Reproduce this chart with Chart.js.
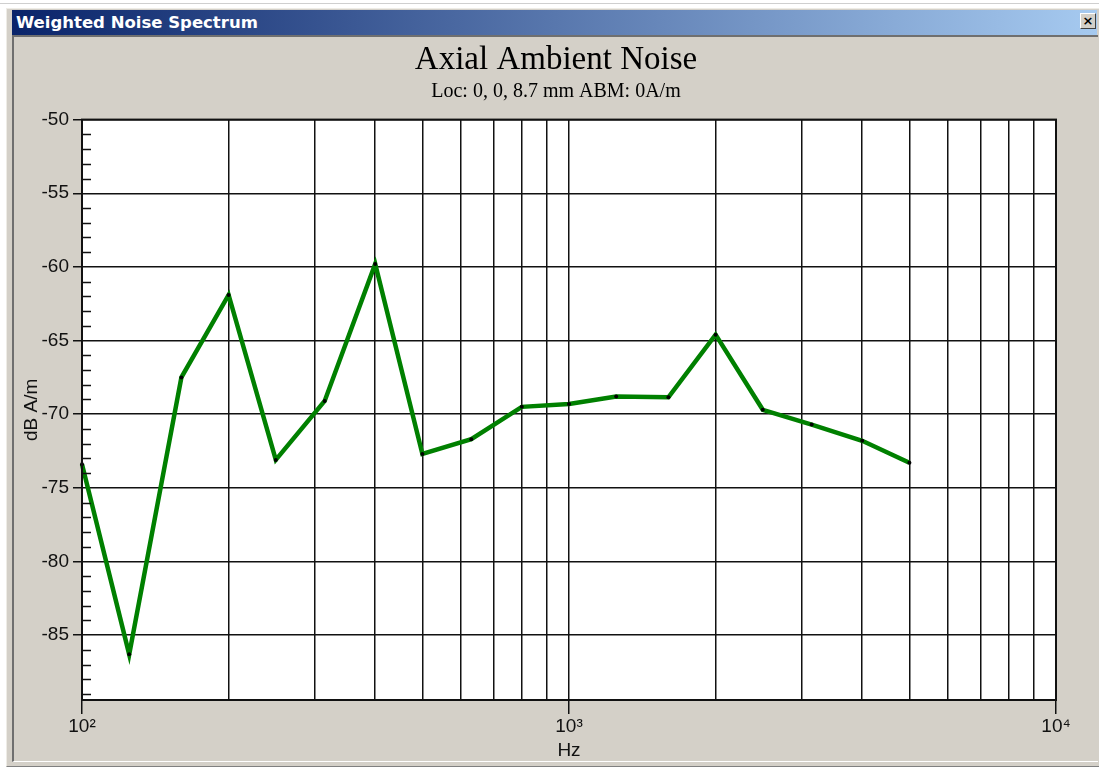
<!DOCTYPE html>
<html><head><meta charset="utf-8">
<script src="https://cdn.jsdelivr.net/npm/chart.js@4/dist/chart.umd.min.js"></script>
<style>
html,body{margin:0;padding:0;background:#fff;width:1099px;height:770px;overflow:hidden;position:relative}
#topline{position:absolute;left:0;top:3px;width:1099px;height:1px;background:#cfcfcf}
#win{position:absolute;left:6px;top:8px;width:1093px;height:759px;background:#D4D0C8;border-top:1px solid #eeece6;border-left:1px solid #eeece6;border-bottom:1px solid #808080;box-sizing:border-box}
#bar{position:absolute;left:12px;top:10px;width:1085px;height:25px;background:linear-gradient(to right,#0A246A,#A6CAF0)}
#bar span{position:absolute;left:4px;top:3px;color:#fff;font:bold 16.5px "DejaVu Sans",sans-serif;letter-spacing:0px}
#close{position:absolute;right:1px;top:3px;width:14px;height:14px;background:#D4D0C8;border:1px solid;border-color:#fff #404040 #404040 #fff;font:bold 13px "DejaVu Sans",sans-serif;line-height:14px;text-align:center;color:#000}
#client{position:absolute;left:12px;top:35px;width:1086px;height:727px;border-top:2px solid #6f6f6f;border-left:2px solid #6f6f6f;border-bottom:1px solid #fff;box-sizing:border-box}
#cv{position:absolute;left:16px;top:38px}
</style>
</head>
<body>
<div id="topline"></div>
<div id="win"></div>
<div id="bar"><span>Weighted Noise Spectrum</span><div id="close">×</div></div>
<div id="client"></div>
<canvas id="cv" width="1080" height="722"></canvas>
<script>
// Third-octave band centre frequencies (Hz)
const freqs = [100,125,160,200,250,315,400,500,630,800,1000,1250,1600,2000,2500,3150,4000,5000];
// Weighted noise level (dB A/m)
const levels = [-73.4,-86.3,-67.5,-61.9,-73.1,-69.1,-59.8,-72.7,-71.7,-69.5,-69.3,-68.8,-68.85,-64.6,-69.7,-70.7,-71.8,-73.3];
// Axis tick values / labels
const xGridValues = [100,200,300,400,500,600,700,800,900,1000,2000,3000,4000,5000,6000,7000,8000,9000,10000];
const xDecadeLabels = {100:'10²',1000:'10³',10000:'10⁴'};
const yMajorTicks = [-50,-55,-60,-65,-70,-75,-80,-85];
const yMinorTicks = [-51,-52,-53,-54,-56,-57,-58,-59,-61,-62,-63,-64,-66,-67,-68,-69,-71,-72,-73,-74,-76,-77,-78,-79,-81,-82,-83,-84,-86,-87,-88,-89];
const yMin = -89.4, yMax = -50;
const titleText = 'Axial Ambient Noise';
const subtitleText = 'Loc: 0, 0, 8.7 mm ABM: 0A/m';

const plotDecor = {
  id:'plotDecor',
  beforeDraw(chart){
    const {ctx, chartArea:a} = chart;
    ctx.save();
    ctx.fillStyle='#fff';
    ctx.fillRect(a.left,a.top,a.right-a.left,a.bottom-a.top);
    ctx.restore();
  },
  afterDatasetsDraw(chart){
    const {ctx, chartArea:a, scales} = chart;
    ctx.save();
    ctx.strokeStyle='#111';
    ctx.lineWidth=1.5;
    ctx.beginPath();
    yMinorTicks.forEach(v=>{
      const y=Math.round(scales.y.getPixelForValue(v))+0.5;
      ctx.moveTo(a.left,y);ctx.lineTo(a.left+9,y);
    });
    ctx.stroke();
    ctx.lineWidth=2;
    ctx.strokeStyle='#111';
    ctx.strokeRect(a.left,a.top,a.right-a.left,a.bottom-a.top);
    ctx.restore();
  }
};

new Chart(document.getElementById('cv'),{
  type:'line',
  data:{datasets:[{
    data: freqs.map((f,i)=>({x:f,y:levels[i]})),
    borderColor:'#008000',
    borderWidth:4.5,
    pointRadius:2,
    pointBackgroundColor:'#000',
    pointBorderWidth:0,
    tension:0,
    clip:false
  }]},
  options:{
    responsive:false,
    animation:false,
    layout:{padding:0},
    plugins:{
      legend:{display:false},
      tooltip:{enabled:false},
      title:{display:true,text:titleText,color:'#000',font:{family:'"Liberation Serif","Times New Roman",serif',size:33,weight:'normal',lineHeight:1.2},padding:{top:3,bottom:0}},
      subtitle:{display:true,text:subtitleText,color:'#000',font:{family:'"Liberation Serif","Times New Roman",serif',size:20,weight:'normal',lineHeight:1.2},padding:{top:-1,bottom:16}}
    },
    scales:{
      x:{
        type:'logarithmic',min:100,max:10000,
        afterBuildTicks(s){ s.ticks = xGridValues.map(v=>({value:v})); },
        afterFit(s){ s.height = 60; },
        ticks:{autoSkip:false,maxRotation:0,padding:1,color:'#111',font:{family:'"Liberation Sans",Arial,sans-serif',size:19},callback:(v)=>xDecadeLabels[v]||''},
        grid:{color:'#111',lineWidth:1.5,tickLength:14,tickColor:(c)=>(c.tick && xDecadeLabels[c.tick.value])?'#111':'rgba(0,0,0,0)'},
        border:{display:true,color:'#111',width:2},
        title:{display:true,text:'Hz',color:'#111',font:{family:'"Liberation Sans",Arial,sans-serif',size:19,lineHeight:1},padding:{top:0,bottom:0}}
      },
      y:{
        type:'linear',min:yMin,max:yMax,
        afterBuildTicks(s){ s.ticks = yMajorTicks.map(v=>({value:v})); },
        afterFit(s){ s.width = 66; },
        ticks:{padding:4,color:'#111',font:{family:'"Liberation Sans",Arial,sans-serif',size:19},callback:(v)=>String(v)},
        grid:{color:'#111',lineWidth:1.5,tickLength:9,tickColor:'#111'},
        border:{display:true,color:'#111',width:2},
        title:{display:true,text:'dB A/m',color:'#111',font:{family:'"Liberation Sans",Arial,sans-serif',size:19,lineHeight:1.2},padding:{top:4,bottom:0}}
      },
      yRight:{
        type:'linear',position:'right',min:yMin,max:yMax,
        afterFit(s){ s.width = 40; },
        ticks:{display:false},
        grid:{display:false,drawTicks:false},
        border:{display:false}
      }
    }
  },
  plugins:[plotDecor]
});
</script>
</body></html>
